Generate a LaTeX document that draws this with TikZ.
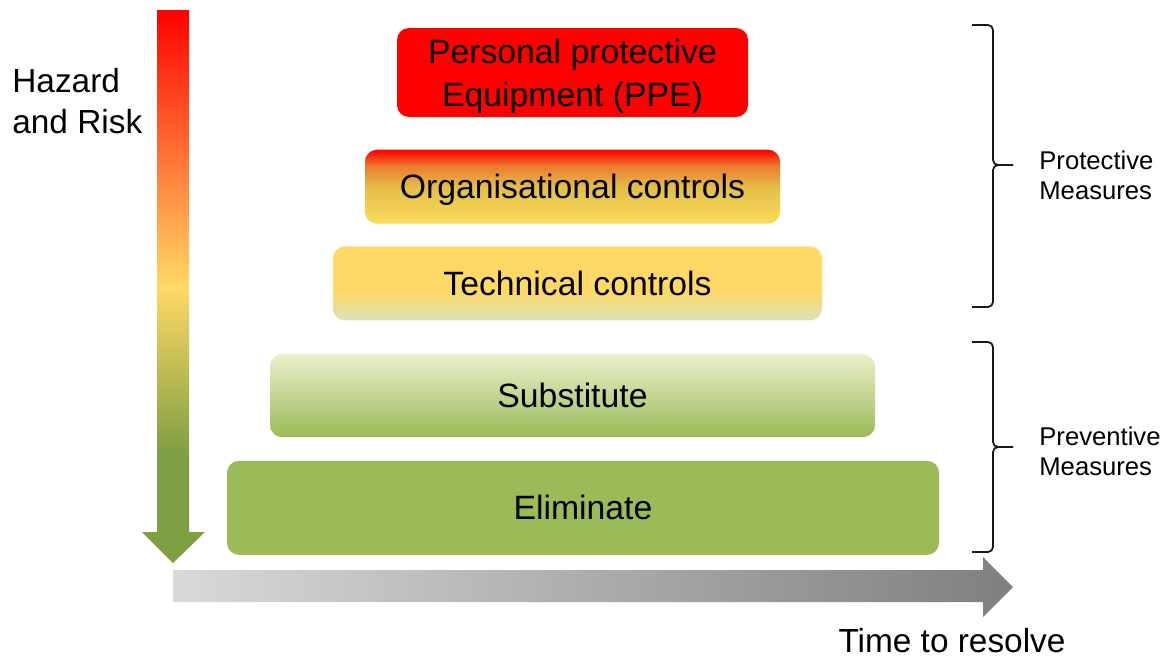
\documentclass[tikz,border=0pt]{standalone}
\usepackage{fontspec}
\setmainfont{Liberation Sans}
\usepackage{xcolor}
\usepackage{tikz}
\usetikzlibrary{positioning,calc}
\definecolor{hazred}{HTML}{FF0000}
\definecolor{hazorange}{HTML}{EC7A30}
\definecolor{hazmustard}{HTML}{E4BE48}
\definecolor{hazyellow}{HTML}{FFD966}
\definecolor{orgyellow}{HTML}{F9DC5A}
\definecolor{hazgreen}{HTML}{9BBB59}
\definecolor{hazolive}{HTML}{7F9F43}
\definecolor{palegreen}{HTML}{D8E3BA}
\definecolor{paleyellow}{HTML}{EBEFCB}
\definecolor{timelight}{HTML}{D9D9D9}
\definecolor{timedark}{HTML}{7F7F7F}

\pgfdeclareverticalshading{riskshade}{100bp}{color(0bp)=(hazolive); color(35bp)=(hazolive); color(50bp)=(hazyellow); color(75bp)=(hazred); color(100bp)=(hazred)}
\pgfdeclareverticalshading{orgshade}{100bp}{color(0bp)=(orgyellow); color(25bp)=(orgyellow); color(50bp)=(hazmustard); color(64bp)=(hazorange); color(75bp)=(hazred); color(100bp)=(hazred)}
\pgfdeclareverticalshading{techshade}{100bp}{color(0bp)=(palegreen); color(25bp)=(palegreen); color(45bp)=(hazyellow); color(100bp)=(hazyellow)}

\begin{document}
\begin{tikzpicture}[
    ctrlbox/.style={rectangle, rounded corners=0.24cm, inner sep=0pt, font=\fontsize{19.2}{24.5}\selectfont},
    oneline/.style={ctrlbox, text height=13.8pt, text depth=0pt},
    sidenote/.style={inner sep=0pt, anchor=west, align=left, font=\fontsize{14.6}{17}\selectfont},
    measurebrace/.style={line width=1pt, black!90, rounded corners=0.1cm}
]
    \useasboundingbox (0,0) rectangle (23.3,-13.18);

    % axes
    \shade[shading=riskshade] (3.14,-0.2) -- (3.78,-0.2) -- (3.78,-10.64) -- (4.10,-10.64) -- (3.46,-11.26) -- (2.84,-10.64) -- (3.14,-10.64) -- cycle;
    \shade[left color=timelight, right color=timedark] (3.46,-11.40) -- (19.66,-11.40) -- (19.66,-11.14) -- (20.26,-11.74) -- (19.66,-12.34) -- (19.66,-12.04) -- (3.46,-12.04) -- cycle;

    \node[sidenote, font=\fontsize{19}{23.3}\selectfont] (hazard) at (0.24,-2.03) {Hazard\\and Risk};
    \node[inner sep=0pt, anchor=base, font=\fontsize{19}{22}\selectfont] (time) at (19.04,-13.05) {Time to resolve};

    % hierarchy of controls
    \node[ctrlbox, fill=hazred, minimum width=7.02cm, minimum height=1.78cm, align=center, text height=43pt] (ppe) at (11.45,-1.45) {Personal protective\\Equipment (PPE)};
    \node[oneline, shade, shading=orgshade, minimum width=8.30cm, minimum height=1.48cm, below=0.64cm of ppe] (org) {Organisational controls};
    \node[oneline, shade, shading=techshade, minimum width=9.78cm, minimum height=1.48cm, below=0.44cm of org, xshift=0.1cm] (tech) {Technical controls};
    \node[oneline, top color=paleyellow, bottom color=hazgreen, minimum width=12.10cm, minimum height=1.66cm, below=0.66cm of tech, xshift=-0.1cm] (subst) {Substitute};
    \node[oneline, fill=hazgreen, minimum width=14.24cm, minimum height=1.88cm, below=0.46cm of subst, xshift=0.21cm] (elim) {Eliminate};

    % measure groups
    \coordinate (protop) at (19.44,-0.50);
    \coordinate (protip) at (20.26,-3.30);
    \coordinate (probot) at (19.44,-6.14);
    \coordinate (prevtop) at (19.44,-6.84);
    \coordinate (prevtip) at (20.26,-8.94);
    \coordinate (prevbot) at (19.44,-11.04);
    \draw[measurebrace] (protop) -- ++(0.42,0) |- (protip);
    \draw[measurebrace] (protip) -| ($(probot)+(0.42,0)$) -- (probot);
    \draw[measurebrace] (prevtop) -- ++(0.42,0) |- (prevtip);
    \draw[measurebrace] (prevtip) -| ($(prevbot)+(0.42,0)$) -- (prevbot);
    \node[sidenote] (protect) at (20.78,-3.50) {Protective\\Measures};
    \node[sidenote] (prevent) at (20.78,-9.03) {Preventive\\Measures};
\end{tikzpicture}
\end{document}
